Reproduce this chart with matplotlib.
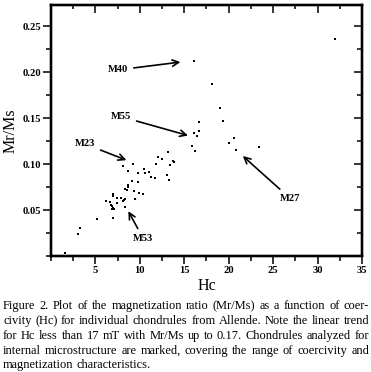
import matplotlib
matplotlib.use("Agg")
import matplotlib.pyplot as plt
from matplotlib.ticker import MultipleLocator

# ---- data ----
hc = [32.0, 16.07, 18.16, 19.0, 19.33, 16.6, 16.7, 16.14, 20.6,
      16.4, 15.85, 16.2, 20.05, 20.87, 23.46,
      8.14, 9.23, 8.7, 10.43, 9.8, 10.62, 11.07, 11.3, 11.75,
      12.05, 12.46, 11.82, 13.14, 13.4, 13.74, 13.85, 13.06, 13.32,
      9.08, 9.76, 8.67, 8.7, 8.33, 8.56, 9.38, 9.87, 10.36,
      7.0, 7.0, 7.43, 7.85, 8.19, 8.33, 8.07, 9.46, 6.23, 6.61, 7.39,
      6.72, 6.87, 7.02, 6.87, 7.13, 8.3, 6.94, 5.22, 3.3, 3.08, 1.58]
mrms = [0.236, 0.2123, 0.1873, 0.161, 0.1474, 0.1463, 0.1365, 0.1337, 0.128,
        0.131, 0.1202, 0.1148, 0.1228, 0.1159, 0.1188,
        0.0982, 0.1007, 0.093, 0.0949, 0.0905, 0.0902, 0.0913, 0.0862, 0.0851,
        0.1083, 0.1061, 0.1007, 0.1134, 0.0989, 0.1033, 0.1025, 0.0887, 0.083,
        0.0818, 0.0808, 0.0775, 0.075, 0.0732, 0.0717, 0.0707, 0.0688, 0.0674,
        0.0674, 0.066, 0.063, 0.0634, 0.0612, 0.0623, 0.0601, 0.062, 0.0601, 0.0587, 0.0583,
        0.0561, 0.0543, 0.0529, 0.0514, 0.0514, 0.0539, 0.0413, 0.0402, 0.0311, 0.0246, 0.0039]

labels = ["M40", "M55", "M23", "M27", "M53"]
label_pos = [(7.55, 0.2025), (7.88, 0.1517), (3.83, 0.122), (26.9, 0.063), (10.36, 0.0196)]
arrow_tip = [(14.72, 0.2112), (15.57, 0.1308), (8.63, 0.1039), (21.47, 0.110), (8.63, 0.0503)]

xticks = [5, 10, 15, 20, 25, 30, 35]
yticks = [0.05, 0.10, 0.15, 0.20, 0.25]
ytick_labels = ["0.05", "0.10", "0.15", "0.20", "0.25"]

caption = ("Figure 2. Plot of the magnetization ratio (Mr/Ms) as a function of coer-\n"
           "civity (Hc) for individual chondrules from Allende. Note the linear trend\n"
           "for Hc less than 17 mT with Mr/Ms up to 0.17. Chondrules analyzed for\n"
           "internal microstructure are marked, covering the range of coercivity and\n"
           "magnetization characteristics.")

# ---- figure ----
plt.rcParams['font.family'] = ['Liberation Serif', 'DejaVu Serif']
W, H = 371, 372
fig = plt.figure(figsize=(W / 100, H / 100), dpi=100)
ax = fig.add_axes([51 / W, 1 - 256.3 / H, 311 / W, 251.3 / H])

ax.scatter(hc, mrms, s=3, c='black', marker='s', linewidths=0)

ax.set_xlim(0, 35)
ax.set_ylim(0, 0.273)
ax.set_xticks(xticks)
ax.set_xticklabels([str(t) for t in xticks])
ax.set_yticks(yticks)
ax.set_yticklabels(ytick_labels)
ax.xaxis.set_minor_locator(MultipleLocator(2.5))
ax.yaxis.set_minor_locator(MultipleLocator(0.025))

for s in ax.spines.values():
    s.set_linewidth(1.6)

ax.tick_params(which='both', direction='out', top=False, right=False, width=1.1)
ax.tick_params(which='major', length=6, pad=1, labelsize=7.6)
ax.tick_params(which='minor', length=3.5)
for lab in ax.get_xticklabels() + ax.get_yticklabels():
    lab.set_fontweight('bold')

axt = ax.twiny()
axt.set_xlim(ax.get_xlim())
axt.set_xticks(xticks)
axt.xaxis.set_minor_locator(MultipleLocator(2.5))
axt.tick_params(which='both', direction='in', labeltop=False, width=1.1)
axt.tick_params(which='major', length=5.5)
axt.tick_params(which='minor', length=3)
axr = ax.twinx()
axr.set_ylim(ax.get_ylim())
axr.set_yticks(yticks)
axr.yaxis.set_minor_locator(MultipleLocator(0.025))
axr.tick_params(which='both', direction='in', labelright=False, width=1.1)
axr.tick_params(which='major', length=6)
axr.tick_params(which='minor', length=3.5)
for a in (axt, axr):
    for s in a.spines.values():
        s.set_linewidth(1.6)

ax.set_xlabel("Hc", fontsize=11.5, labelpad=2)
ax.set_ylabel("Mr/Ms", fontsize=11.5, labelpad=3)

for lab, (tx, ty), (px, py) in zip(labels, label_pos, arrow_tip):
    ax.annotate(lab, xy=(px, py), xytext=(tx, ty), ha='center', va='center',
                fontsize=7.6, fontweight='bold',
                arrowprops=dict(arrowstyle='->,head_length=0.6,head_width=0.3',
                                lw=1.2, color='black', shrinkA=2, shrinkB=1))

# ---- justified caption ----
renderer = fig.canvas.get_renderer()
x0, x1 = 3.0, 369.0
baselines = [309, 324, 339, 354, 368]
lines = caption.split("\n")


def measure(s, fs):
    t = fig.text(0, 0, s, fontsize=fs)
    w = t.get_window_extent(renderer).width
    t.remove()
    return w


ref_fs = 10.0
nat = max(measure(l, ref_fs) for l in lines[:-1])
cap_fs = ref_fs * (x1 - x0) * 0.985 / nat
sw = measure("a b", cap_fs) - measure("ab", cap_fs)

for i, (line, yb) in enumerate(zip(lines, baselines)):
    words = line.split(" ")
    texts = [fig.text(0, 1 - yb / H, w, fontsize=cap_fs, va='baseline', ha='left')
             for w in words]
    widths = [t.get_window_extent(renderer).width for t in texts]
    last = (i == len(lines) - 1)
    if not last and len(words) > 1:
        gap = (x1 - x0 - sum(widths)) / (len(words) - 1)
    else:
        gap = sw
    x = x0
    for t, w in zip(texts, widths):
        t.set_x(x / W)
        x += w + gap

fig.savefig("out.png", dpi=100)
